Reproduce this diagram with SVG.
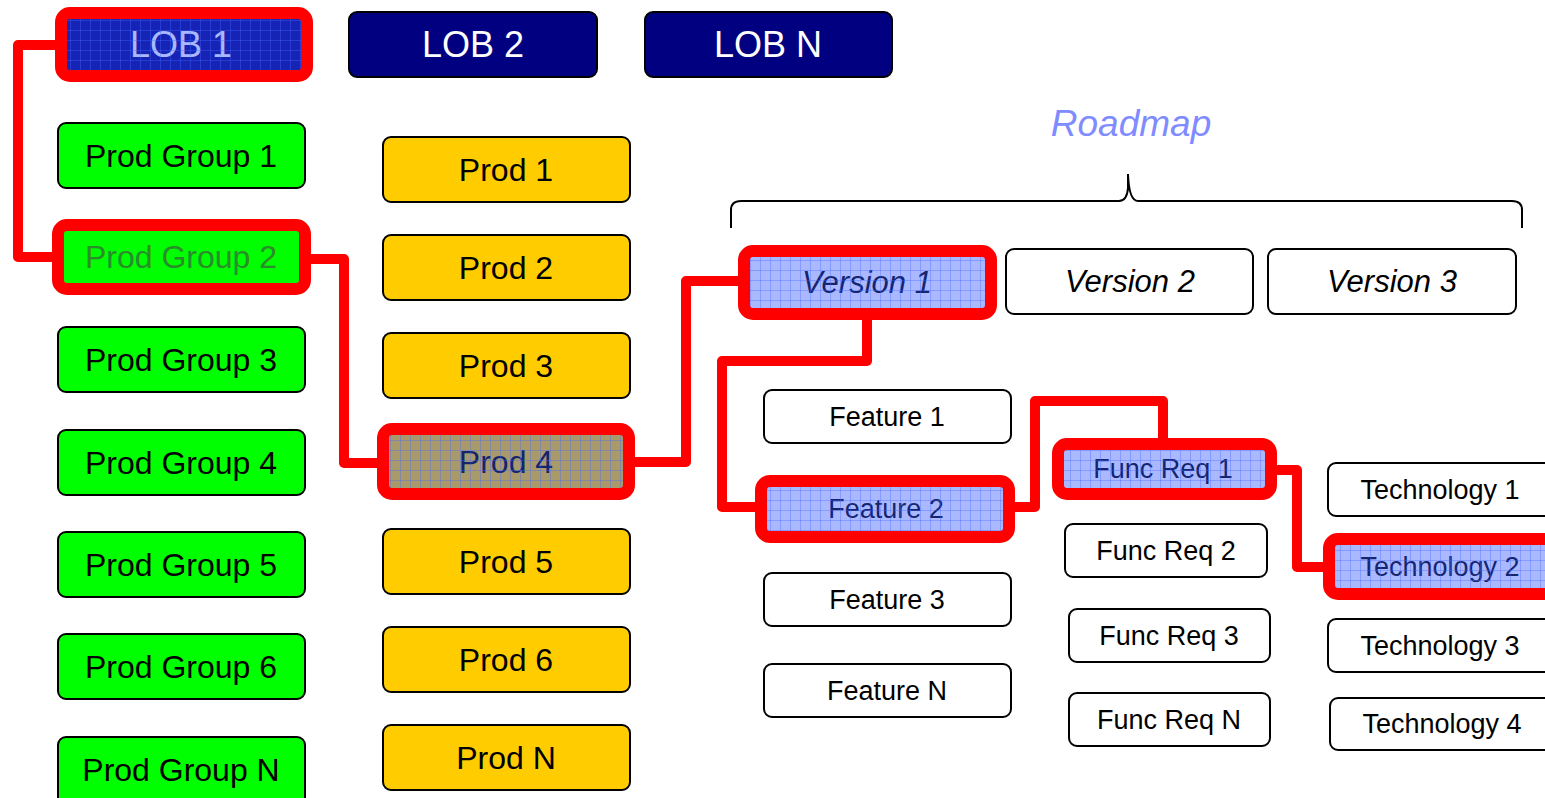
<svg xmlns="http://www.w3.org/2000/svg" width="1545" height="798" viewBox="0 0 1545 798">
  <style>
    text { font-family: "Liberation Sans", Arial, sans-serif; text-anchor: middle; }
    .box { stroke: #000; stroke-width: 2; }
    .lob { fill: #000080; }
    .grp { fill: #00ff00; }
    .prod { fill: #ffcc00; }
    .plain { fill: #ffffff; }
    .t36 { font-size: 36px; fill: #ffffff; }
    .t32 { font-size: 32px; fill: #000000; }
    .t31i { font-size: 31px; font-style: italic; fill: #000000; }
    .t27 { font-size: 27px; fill: #000000; }
    .sel { fill: url(#selgrid); }
    .hl { fill: none; stroke: #ff0000; stroke-width: 12; }
    .wire { fill: none; stroke: #ff0000; stroke-width: 10; stroke-linejoin: round; }
  </style>
  <defs>
    <!-- translucent blue grid used to mark the selected path -->
    <pattern id="selgrid" width="10" height="10" patternUnits="userSpaceOnUse">
      <rect width="10" height="10" fill="#3355ff" fill-opacity="0.42"/>
      <path d="M0 0.5H10M0.5 0V10" stroke="#4466ff" stroke-opacity="0.35" stroke-width="1"/>
    </pattern>
  </defs>
  <rect width="1545" height="798" fill="#ffffff"/>

  <!-- selected path connectors -->
  <g id="connectors">
    <path class="wire" d="M61 45 H18 V257 H58"/>
    <path class="wire" d="M305 259 H344 V463 H383"/>
    <path class="wire" d="M629 462 H686 V281 H744"/>
    <path class="wire" d="M867 314 V361 H722 V507 H761"/>
    <path class="wire" d="M1009 507 H1035 V401 H1163 V444"/>
    <path class="wire" d="M1271 470 H1297 V567 H1329"/>
  </g>

  <!-- lines of business -->
  <g id="lob1">
    <rect class="box lob" x="61" y="13" width="246" height="63" rx="8"/>
    <text class="t36" x="181" y="57">LOB 1</text>
    <rect class="sel" x="61" y="13" width="246" height="63" rx="8"/>
    <rect class="hl" x="61" y="13" width="246" height="63" rx="9"/>
  </g>
  <g id="lob2">
    <rect class="box lob" x="349" y="12" width="248" height="65" rx="8"/>
    <text class="t36" x="473" y="57">LOB 2</text>
  </g>
  <g id="lobn">
    <rect class="box lob" x="645" y="12" width="247" height="65" rx="8"/>
    <text class="t36" x="768" y="57">LOB N</text>
  </g>

  <!-- product groups -->
  <g id="pg1"><rect class="box grp" x="58" y="123" width="247" height="65" rx="8"/><text class="t32" x="181" y="167">Prod Group 1</text></g>
  <g id="pg2">
    <rect class="box grp" x="58" y="225" width="247" height="65" rx="8"/>
    <text class="t32" x="181" y="268" style="fill:#2a8c2a">Prod Group 2</text>
    <rect class="hl" x="58" y="225" width="247" height="64" rx="9"/>
  </g>
  <g id="pg3"><rect class="box grp" x="58" y="327" width="247" height="65" rx="8"/><text class="t32" x="181" y="371">Prod Group 3</text></g>
  <g id="pg4"><rect class="box grp" x="58" y="430" width="247" height="65" rx="8"/><text class="t32" x="181" y="474">Prod Group 4</text></g>
  <g id="pg5"><rect class="box grp" x="58" y="532" width="247" height="65" rx="8"/><text class="t32" x="181" y="576">Prod Group 5</text></g>
  <g id="pg6"><rect class="box grp" x="58" y="634" width="247" height="65" rx="8"/><text class="t32" x="181" y="678">Prod Group 6</text></g>
  <g id="pgn"><rect class="box grp" x="58" y="737" width="247" height="70" rx="8"/><text class="t32" x="181" y="781">Prod Group N</text></g>

  <!-- products -->
  <g id="p1"><rect class="box prod" x="383" y="137" width="247" height="65" rx="8"/><text class="t32" x="506" y="181">Prod 1</text></g>
  <g id="p2"><rect class="box prod" x="383" y="235" width="247" height="65" rx="8"/><text class="t32" x="506" y="279">Prod 2</text></g>
  <g id="p3"><rect class="box prod" x="383" y="333" width="247" height="65" rx="8"/><text class="t32" x="506" y="377">Prod 3</text></g>
  <g id="p4">
    <rect class="box prod" x="383" y="429" width="246" height="65" rx="8"/>
    <text class="t32" x="506" y="473">Prod 4</text>
    <rect class="sel" x="383" y="429" width="246" height="65" rx="8"/>
    <rect class="hl" x="383" y="429" width="246" height="65" rx="9"/>
  </g>
  <g id="p5"><rect class="box prod" x="383" y="529" width="247" height="65" rx="8"/><text class="t32" x="506" y="573">Prod 5</text></g>
  <g id="p6"><rect class="box prod" x="383" y="627" width="247" height="65" rx="8"/><text class="t32" x="506" y="671">Prod 6</text></g>
  <g id="pn"><rect class="box prod" x="383" y="725" width="247" height="65" rx="8"/><text class="t32" x="506" y="769">Prod N</text></g>

  <!-- roadmap heading and brace -->
  <g id="roadmap">
    <text x="1131" y="136" style="font-size:37px;font-style:italic;fill:#7f8cff">Roadmap</text>
    <path d="M731 228 V210 Q731 201 741 201 H1119 Q1127 201 1128 188 V174 V174 Q1129 201 1138 201 H1512 Q1522 201 1522 210 V228" fill="none" stroke="#000" stroke-width="2"/>
  </g>

  <!-- versions -->
  <g id="v1">
    <rect class="box plain" x="744" y="251" width="247" height="63" rx="8"/>
    <text class="t31i" x="867" y="293">Version 1</text>
    <rect class="sel" x="744" y="251" width="247" height="63" rx="8"/>
    <rect class="hl" x="744" y="251" width="247" height="63" rx="9"/>
  </g>
  <g id="v2"><rect class="box plain" x="1006" y="249" width="247" height="65" rx="8"/><text class="t31i" x="1130" y="292">Version 2</text></g>
  <g id="v3"><rect class="box plain" x="1268" y="249" width="248" height="65" rx="8"/><text class="t31i" x="1392" y="292">Version 3</text></g>

  <!-- features -->
  <g id="f1"><rect class="box plain" x="764" y="390" width="247" height="53" rx="8"/><text class="t27" x="887" y="426">Feature 1</text></g>
  <g id="f2">
    <rect class="box plain" x="761" y="481" width="248" height="56" rx="8"/>
    <text class="t27" x="886" y="518">Feature 2</text>
    <rect class="sel" x="761" y="481" width="248" height="56" rx="8"/>
    <rect class="hl" x="761" y="481" width="248" height="56" rx="9"/>
  </g>
  <g id="f3"><rect class="box plain" x="764" y="573" width="247" height="53" rx="8"/><text class="t27" x="887" y="609">Feature 3</text></g>
  <g id="fn"><rect class="box plain" x="764" y="664" width="247" height="53" rx="8"/><text class="t27" x="887" y="700">Feature N</text></g>

  <!-- functional requirements -->
  <g id="fr1">
    <rect class="box plain" x="1058" y="444" width="213" height="50" rx="8"/>
    <text class="t27" x="1163" y="478">Func Req 1</text>
    <rect class="sel" x="1058" y="444" width="213" height="50" rx="8"/>
    <rect class="hl" x="1058" y="444" width="213" height="50" rx="9"/>
  </g>
  <g id="fr2"><rect class="box plain" x="1065" y="524" width="202" height="53" rx="8"/><text class="t27" x="1166" y="560">Func Req 2</text></g>
  <g id="fr3"><rect class="box plain" x="1069" y="609" width="201" height="53" rx="8"/><text class="t27" x="1169" y="645">Func Req 3</text></g>
  <g id="frn"><rect class="box plain" x="1069" y="693" width="201" height="53" rx="8"/><text class="t27" x="1169" y="729">Func Req N</text></g>

  <!-- technologies -->
  <g id="t1"><rect class="box plain" x="1328" y="463" width="224" height="53" rx="8"/><text class="t27" x="1440" y="499">Technology 1</text></g>
  <g id="t2">
    <rect class="box plain" x="1329" y="539" width="224" height="55" rx="8"/>
    <text class="t27" x="1440" y="576">Technology 2</text>
    <rect class="sel" x="1329" y="539" width="224" height="55" rx="8"/>
    <rect class="hl" x="1329" y="539" width="224" height="55" rx="9"/>
  </g>
  <g id="t3"><rect class="box plain" x="1328" y="619" width="224" height="53" rx="8"/><text class="t27" x="1440" y="655">Technology 3</text></g>
  <g id="t4"><rect class="box plain" x="1330" y="698" width="224" height="52" rx="8"/><text class="t27" x="1442" y="733">Technology 4</text></g>
</svg>
